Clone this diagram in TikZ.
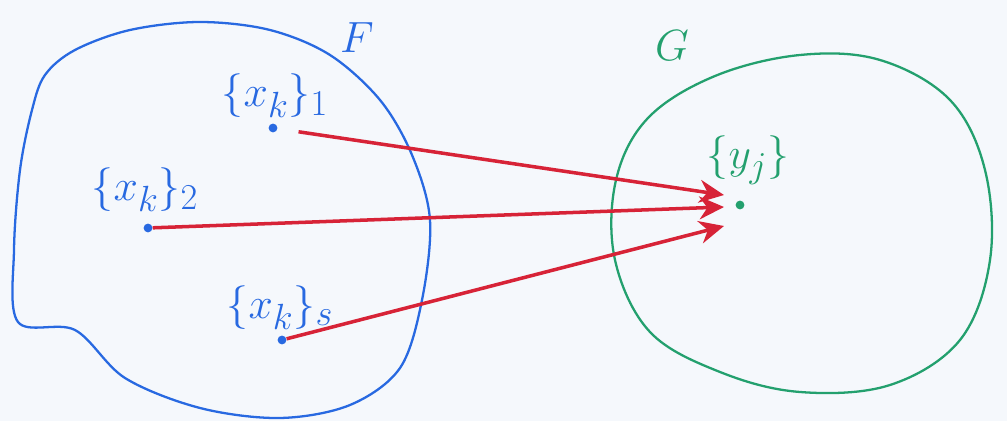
\documentclass[tikz,border=0pt]{standalone}
\usepackage{amsmath}
\usepackage{tikz}
\usetikzlibrary{arrows.meta}

\begin{document}
\begin{tikzpicture}[x=0.02cm,y=-0.02cm]
    \definecolor{penBlue}{RGB}{40,105,225}
    \definecolor{penGreen}{RGB}{35,160,110}
    \definecolor{penRed}{RGB}{215,35,55}
    \definecolor{paperColor}{RGB}{245,248,252}

    \tikzset{
        dot/.style={circle, fill=#1, inner sep=0pt, minimum size=5pt},
        lbl/.style={text=#1, font=\fontsize{28}{32}\selectfont},
        arr/.style={draw=penRed, line width=2pt, -{Stealth[length=14pt,width=13pt]}}
    }

    \fill[paperColor] (0,0) rectangle (1007,421);
    \useasboundingbox (0,0) rectangle (1007,421);

    % the two sets
    \draw[penBlue, line width=1.3pt] plot[smooth cycle, tension=0.55] coordinates {
        (45,75) (75,50) (130,30) (200,22) (270,30) (330,55) (380,100) (412,155)
        (430,220) (422,300) (400,368) (350,405) (280,418) (200,408) (125,378)
        (75,330) (18,322) (14,250) (20,170) (32,110)};
    \draw[penGreen, line width=1.3pt] plot[smooth cycle, tension=0.6] coordinates {
        (715,76) (800,55) (880,60) (950,100) (985,170) (990,260) (960,340)
        (890,385) (800,392) (720,372) (650,332) (615,260) (616,180) (648,118)};

    \node[lbl=penBlue, font=\fontsize{32}{36}\selectfont] (setF) at (357,38) {$F$};
    \node[lbl=penGreen, font=\fontsize{32}{36}\selectfont] (setG) at (672,46) {$G$};

    % points
    \node[dot=penBlue] (x1) at (273,128) {};
    \node[dot=penBlue] (x2) at (148,228) {};
    \node[dot=penBlue] (x3) at (282,340) {};
    \node[dot=penGreen] (y) at (740,205) {};

    \node[lbl=penBlue] (x1lbl) at (275,96) {$\{x_k\}_1$};
    \node[lbl=penBlue] (x2lbl) at (145,190) {$\{x_k\}_2$};
    \node[lbl=penBlue] (x3lbl) at (280,308) {$\{x_k\}_s$};
    \node[lbl=penGreen] (ylbl) at (748,160) {$\{y_j\}$};

    \coordinate (in1) at (724,195);
    \coordinate (in2) at (724,207);
    \coordinate (in3) at (724,226);

    \draw[arr, shorten <=12pt] (x1) -- (in1);
    \draw[arr] (x2) -- (in2);
    \draw[arr] (x3) -- (in3);
\end{tikzpicture}
\end{document}
